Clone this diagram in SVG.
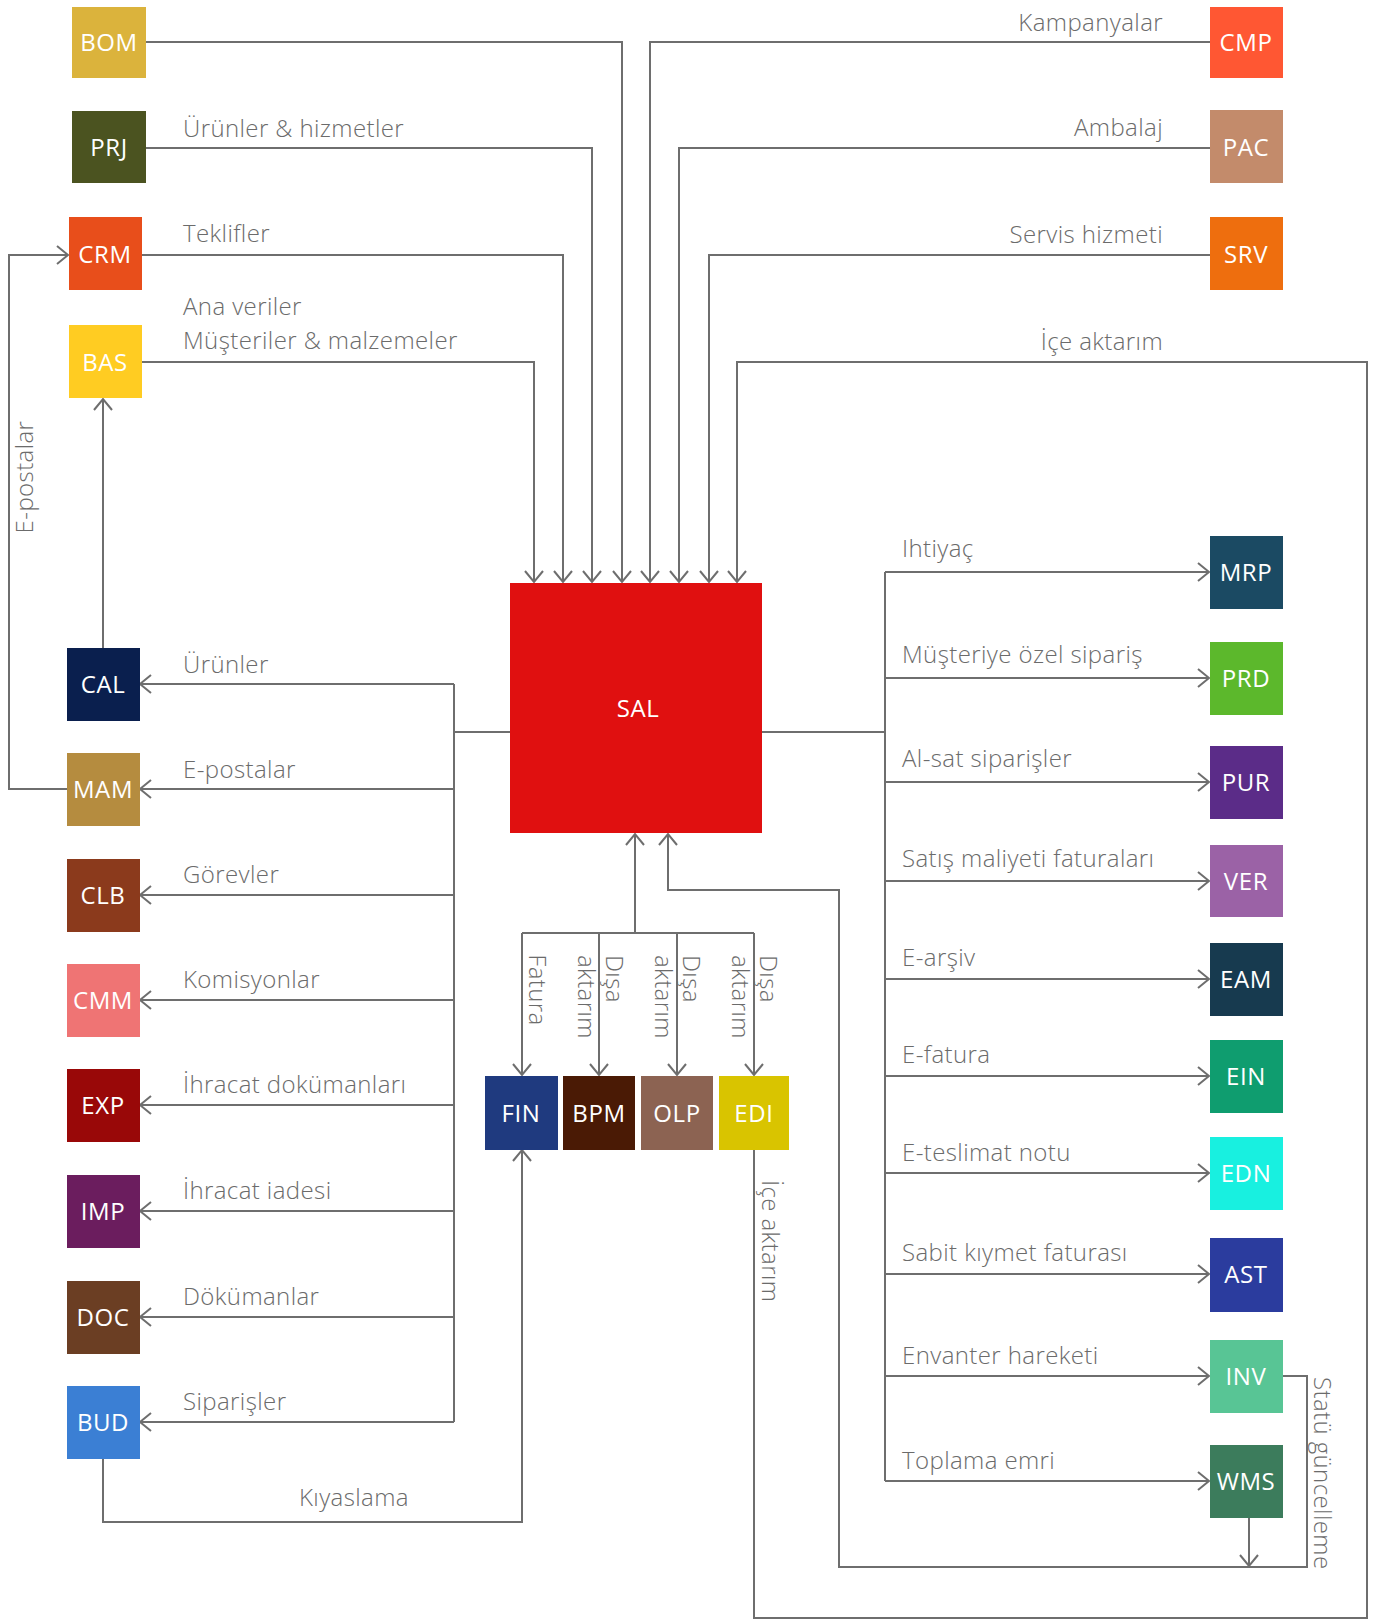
<svg xmlns="http://www.w3.org/2000/svg" width="1381" height="1620" viewBox="0 0 1381 1620">
<style>
.nl{font-family:"Open Sans","Liberation Sans",sans-serif;font-size:24px;letter-spacing:0.6px;fill:#fff;text-anchor:middle}
.lb{font-family:"Open Sans","Liberation Sans",sans-serif;font-size:24px;letter-spacing:0.4px;font-weight:300;fill:#6b6b6b}
.e{text-anchor:end}
.m{text-anchor:middle}
.c path{fill:none;stroke:#6e6e6e;stroke-width:2}
</style>
<defs>
<marker id="a" markerUnits="userSpaceOnUse" markerWidth="16" markerHeight="22" refX="13" refY="11" orient="auto">
<path d="M2,2 L13,11 L2,20" fill="none" stroke="#6e6e6e" stroke-width="2"/>
</marker>
</defs>
<rect width="1381" height="1620" fill="#fff"/>
<g class="c" id="connectors">
<path d="M146,42 H622 V582" marker-end="url(#a)"/>
<path d="M146,148 H592 V582" marker-end="url(#a)"/>
<path d="M142,255 H563 V582" marker-end="url(#a)"/>
<path d="M142,362 H534 V582" marker-end="url(#a)"/>
<path d="M1210,42 H650 V582" marker-end="url(#a)"/>
<path d="M1210,148 H679 V582" marker-end="url(#a)"/>
<path d="M1210,255 H709 V582" marker-end="url(#a)"/>
<path d="M754,1148 V1618 H1367 V362 H737 V582" marker-end="url(#a)"/>
<path d="M103,648 V399" marker-end="url(#a)"/>
<path d="M67,789 H9 V255 H68" marker-end="url(#a)"/>
<path d="M510,732 H454"/>
<path d="M454,684 V1422"/>
<path d="M454,684 H140" marker-end="url(#a)"/>
<path d="M454,789 H140" marker-end="url(#a)"/>
<path d="M454,895 H140" marker-end="url(#a)"/>
<path d="M454,1000 H140" marker-end="url(#a)"/>
<path d="M454,1105 H140" marker-end="url(#a)"/>
<path d="M454,1211 H140" marker-end="url(#a)"/>
<path d="M454,1317 H140" marker-end="url(#a)"/>
<path d="M454,1422 H140" marker-end="url(#a)"/>
<path d="M762,732 H885"/>
<path d="M885,572 V1481"/>
<path d="M885,572 H1209" marker-end="url(#a)"/>
<path d="M885,678 H1209" marker-end="url(#a)"/>
<path d="M885,782 H1209" marker-end="url(#a)"/>
<path d="M885,881 H1209" marker-end="url(#a)"/>
<path d="M885,979 H1209" marker-end="url(#a)"/>
<path d="M885,1076 H1209" marker-end="url(#a)"/>
<path d="M885,1173 H1209" marker-end="url(#a)"/>
<path d="M885,1274 H1209" marker-end="url(#a)"/>
<path d="M885,1376 H1209" marker-end="url(#a)"/>
<path d="M885,1481 H1209" marker-end="url(#a)"/>
<path d="M635,933 V834" marker-end="url(#a)"/>
<path d="M522,933 H754"/>
<path d="M522,933 V1075" marker-end="url(#a)"/>
<path d="M599,933 V1075" marker-end="url(#a)"/>
<path d="M677,933 V1075" marker-end="url(#a)"/>
<path d="M754,933 V1075" marker-end="url(#a)"/>
<path d="M1283,1376 H1307 V1567 H839 V890 H668 V834" marker-end="url(#a)"/>
<path d="M1249,1517 V1566" marker-end="url(#a)"/>
<path d="M103,1458 V1522 H522 V1150" marker-end="url(#a)"/>
</g>
<g id="labels">
<text class="lb" x="183" y="137">Ürünler &amp; hizmetler</text>
<text class="lb" x="183" y="242">Teklifler</text>
<text class="lb" x="183" y="315">Ana veriler</text>
<text class="lb" x="183" y="349">Müşteriler &amp; malzemeler</text>
<text class="lb e" x="1163" y="31">Kampanyalar</text>
<text class="lb e" x="1163" y="136">Ambalaj</text>
<text class="lb e" x="1163" y="243">Servis hizmeti</text>
<text class="lb e" x="1163" y="350">İçe aktarım</text>
<text class="lb" x="183" y="673">Ürünler</text>
<text class="lb" x="183" y="778">E-postalar</text>
<text class="lb" x="183" y="883">Görevler</text>
<text class="lb" x="183" y="988">Komisyonlar</text>
<text class="lb" x="183" y="1093">İhracat dokümanları</text>
<text class="lb" x="183" y="1199">İhracat iadesi</text>
<text class="lb" x="183" y="1305">Dökümanlar</text>
<text class="lb" x="183" y="1410">Siparişler</text>
<text class="lb" x="902" y="557">Ihtiyaç</text>
<text class="lb" x="902" y="663">Müşteriye özel sipariş</text>
<text class="lb" x="902" y="767">Al-sat siparişler</text>
<text class="lb" x="902" y="867">Satış maliyeti faturaları</text>
<text class="lb" x="902" y="966">E-arşiv</text>
<text class="lb" x="902" y="1063">E-fatura</text>
<text class="lb" x="902" y="1161">E-teslimat notu</text>
<text class="lb" x="902" y="1261">Sabit kıymet faturası</text>
<text class="lb" x="902" y="1364">Envanter hareketi</text>
<text class="lb" x="902" y="1469">Toplama emri</text>
<text class="lb" x="299" y="1506">Kıyaslama</text>
<text class="lb m" transform="translate(33,477) rotate(-90)">E-postalar</text>
<text class="lb m" transform="translate(529,990) rotate(90)">Fatura</text>
<text class="lb" transform="translate(606,955) rotate(90)">Dışa</text>
<text class="lb" transform="translate(578,955) rotate(90)">aktarım</text>
<text class="lb" transform="translate(683,955) rotate(90)">Dışa</text>
<text class="lb" transform="translate(655,955) rotate(90)">aktarım</text>
<text class="lb" transform="translate(760,955) rotate(90)">Dışa</text>
<text class="lb" transform="translate(732,955) rotate(90)">aktarım</text>
<text class="lb" transform="translate(762,1180) rotate(90)">İçe aktarım</text>
<text class="lb" transform="translate(1314,1377) rotate(90)">Statü güncelleme</text>
</g>
<g id="SAL"><rect x="510" y="583" width="252" height="250" fill="#e01010"/><text class="nl" x="638" y="717">SAL</text></g>
<g id="BOM"><rect x="72" y="7" width="74" height="71" fill="#dbb33c"/><text class="nl" x="109" y="51">BOM</text></g>
<g id="PRJ"><rect x="72" y="111" width="74" height="72" fill="#4b5320"/><text class="nl" x="109" y="156">PRJ</text></g>
<g id="CRM"><rect x="69" y="217" width="73" height="73" fill="#e84e1b"/><text class="nl" x="105" y="263">CRM</text></g>
<g id="BAS"><rect x="69" y="325" width="73" height="73" fill="#ffcc22"/><text class="nl" x="105" y="371">BAS</text></g>
<g id="CMP"><rect x="1210" y="7" width="73" height="71" fill="#ff5733"/><text class="nl" x="1246" y="51">CMP</text></g>
<g id="PAC"><rect x="1210" y="110" width="73" height="73" fill="#c38b6b"/><text class="nl" x="1246" y="156">PAC</text></g>
<g id="SRV"><rect x="1210" y="217" width="73" height="73" fill="#ee6e0e"/><text class="nl" x="1246" y="263">SRV</text></g>
<g id="CAL"><rect x="67" y="648" width="73" height="73" fill="#0a1f4e"/><text class="nl" x="103" y="693">CAL</text></g>
<g id="MAM"><rect x="67" y="753" width="73" height="73" fill="#b58c3f"/><text class="nl" x="103" y="798">MAM</text></g>
<g id="CLB"><rect x="67" y="859" width="73" height="73" fill="#8b3a1c"/><text class="nl" x="103" y="904">CLB</text></g>
<g id="CMM"><rect x="67" y="964" width="73" height="73" fill="#ef7474"/><text class="nl" x="103" y="1009">CMM</text></g>
<g id="EXP"><rect x="67" y="1069" width="73" height="73" fill="#990808"/><text class="nl" x="103" y="1114">EXP</text></g>
<g id="IMP"><rect x="67" y="1175" width="73" height="73" fill="#6b1d5e"/><text class="nl" x="103" y="1220">IMP</text></g>
<g id="DOC"><rect x="67" y="1281" width="73" height="73" fill="#6b3e23"/><text class="nl" x="103" y="1326">DOC</text></g>
<g id="BUD"><rect x="67" y="1386" width="73" height="73" fill="#3b7fd4"/><text class="nl" x="103" y="1431">BUD</text></g>
<g id="FIN"><rect x="485" y="1076" width="73" height="74" fill="#1f3a7f"/><text class="nl" x="521" y="1122">FIN</text></g>
<g id="BPM"><rect x="563" y="1076" width="72" height="74" fill="#4a1a05"/><text class="nl" x="599" y="1122">BPM</text></g>
<g id="OLP"><rect x="641" y="1076" width="72" height="74" fill="#8c6352"/><text class="nl" x="677" y="1122">OLP</text></g>
<g id="EDI"><rect x="719" y="1076" width="70" height="74" fill="#d9c400"/><text class="nl" x="754" y="1122">EDI</text></g>
<g id="MRP"><rect x="1210" y="536" width="73" height="73" fill="#1b4a63"/><text class="nl" x="1246" y="581">MRP</text></g>
<g id="PRD"><rect x="1210" y="642" width="73" height="73" fill="#5cb82c"/><text class="nl" x="1246" y="687">PRD</text></g>
<g id="PUR"><rect x="1210" y="746" width="73" height="73" fill="#5b2c88"/><text class="nl" x="1246" y="791">PUR</text></g>
<g id="VER"><rect x="1210" y="845" width="73" height="72" fill="#9b62a6"/><text class="nl" x="1246" y="890">VER</text></g>
<g id="EAM"><rect x="1210" y="943" width="73" height="73" fill="#173a4f"/><text class="nl" x="1246" y="988">EAM</text></g>
<g id="EIN"><rect x="1210" y="1040" width="73" height="73" fill="#0f9d6f"/><text class="nl" x="1246" y="1085">EIN</text></g>
<g id="EDN"><rect x="1210" y="1137" width="73" height="73" fill="#18f0e0"/><text class="nl" x="1246" y="1182">EDN</text></g>
<g id="AST"><rect x="1210" y="1238" width="73" height="74" fill="#2b3c9e"/><text class="nl" x="1246" y="1283">AST</text></g>
<g id="INV"><rect x="1210" y="1340" width="73" height="73" fill="#58c595"/><text class="nl" x="1246" y="1385">INV</text></g>
<g id="WMS"><rect x="1210" y="1445" width="73" height="73" fill="#3c7c5c"/><text class="nl" x="1246" y="1490">WMS</text></g>
</svg>
